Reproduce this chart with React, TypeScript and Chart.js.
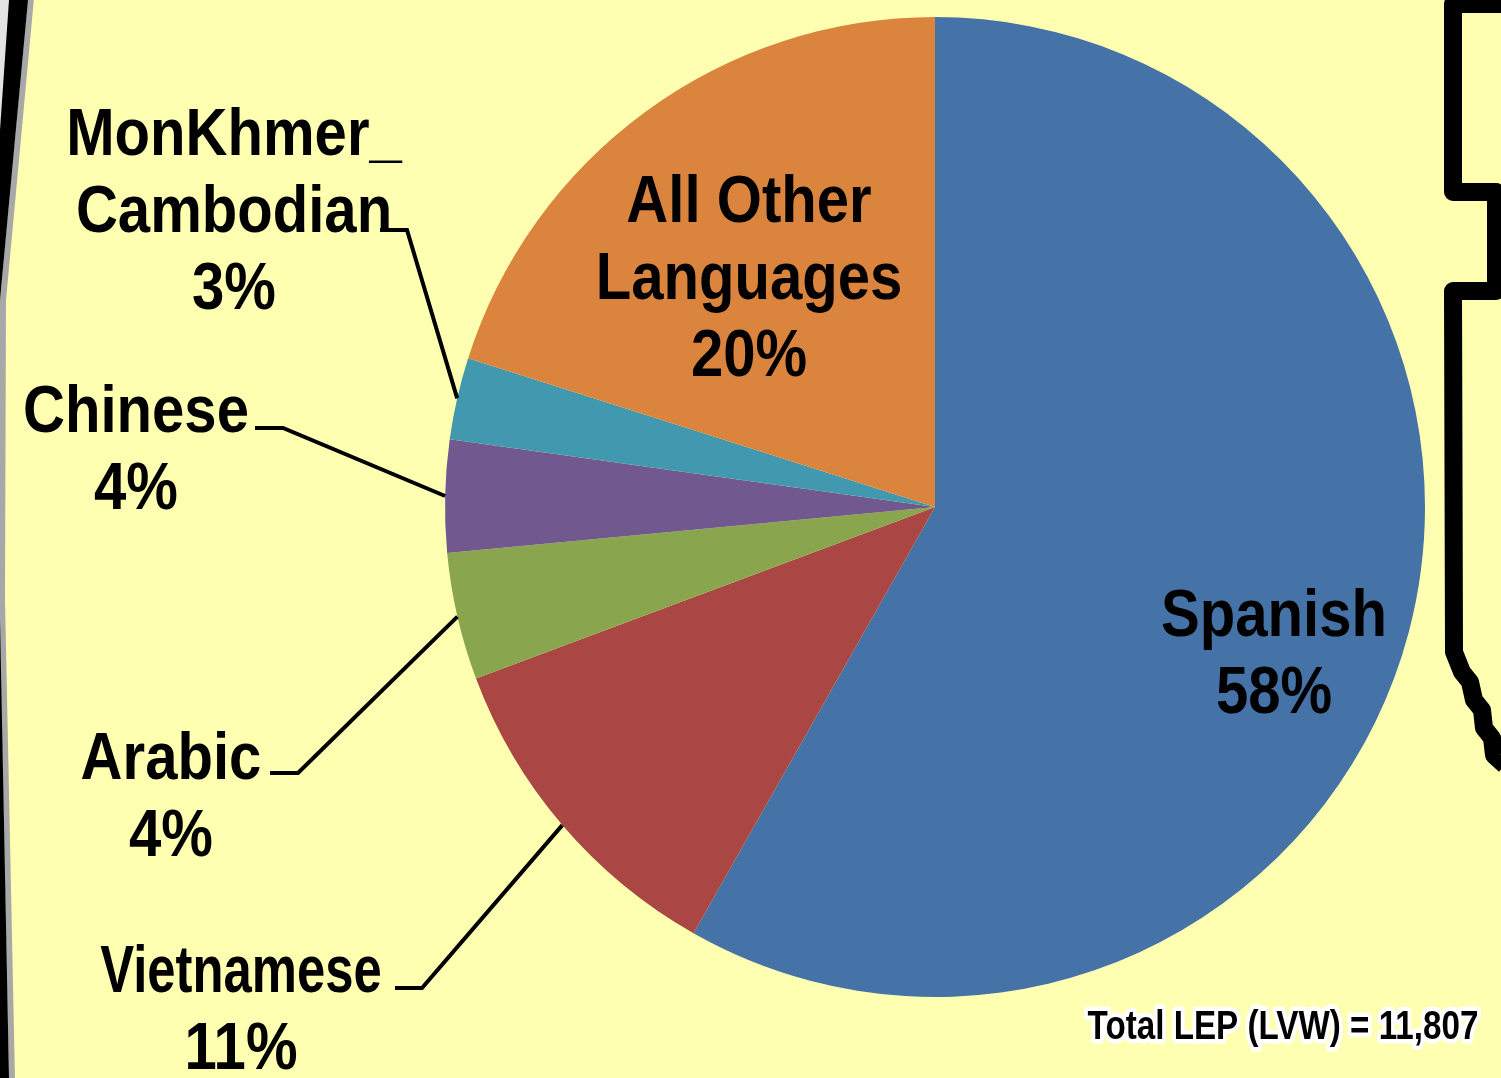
import React, { useEffect, useRef } from "react";
import { Chart, registerables } from "chart.js";

Chart.register(...registerables);

// ---- data ----
const categories = ["Spanish", "Vietnamese", "Arabic", "Chinese", "MonKhmer_Cambodian", "All Other Languages"];
const counts = [6872, 1311, 496, 437, 319, 2372];
const labelLines = [["Spanish"], ["Vietnamese"], ["Arabic"], ["Chinese"], ["MonKhmer_", "Cambodian"], ["All Other", "Languages"]];
const sliceColors = ["#4572A7", "#AA4643", "#89A54E", "#71588F", "#4198AF", "#DB843D"];
const totalTitle = "Total LEP (LVW) = ";

// ---- layout (label placement only) ----
const labelLayout: any[] = [
  { cx: 1274, y: 636 },
  { cx: 241, y: 992, elbow: [422, 988], end: 395, nameScale: 0.77 },
  { cx: 171, y: 779, elbow: [298, 773], end: 270 },
  { cx: 136, y: 432, elbow: [283, 428], end: 255 },
  { cx: 234, y: 155, elbow: [407, 230], end: 380 },
  { cx: 749, y: 222 },
];

const W = 1501;
const H = 1078;
const BG = "#FFFFB2";
const FONT = '"Liberation Sans Narrow", "Arial Narrow", "Liberation Sans", Arial, sans-serif';
const SX = 0.88;

function drawSqueezed(ctx: CanvasRenderingContext2D, text: string, cx: number, y: number, sx: number, stroke = false) {
  ctx.save();
  ctx.translate(cx, y);
  ctx.scale(sx, 1);
  if (stroke) ctx.strokeText(text, 0, 0);
  ctx.fillText(text, 0, 0);
  ctx.restore();
}

const decorPlugin = {
  id: "decor",
  beforeDraw(chart: any) {
    const ctx = chart.ctx;
    ctx.save();
    ctx.fillStyle = BG;
    ctx.fillRect(0, 0, W, H);

    // left border decoration
    ctx.fillStyle = "#E4E4E4";
    ctx.beginPath();
    ctx.moveTo(0, 0);
    ctx.lineTo(10, 0);
    ctx.lineTo(0, 130);
    ctx.closePath();
    ctx.fill();
    ctx.strokeStyle = "#A8A8A8";
    ctx.lineWidth = 6;
    ctx.beginPath();
    ctx.moveTo(31, -2);
    ctx.lineTo(3, 300);
    ctx.lineTo(2, 600);
    ctx.lineTo(12, 1080);
    ctx.stroke();
    ctx.fillStyle = "#000";
    ctx.beginPath();
    ctx.moveTo(9, 0);
    ctx.lineTo(28, 0);
    ctx.lineTo(0, 300);
    ctx.lineTo(0, 130);
    ctx.closePath();
    ctx.fill();
    ctx.beginPath();
    ctx.moveTo(0, 620);
    ctx.lineTo(0, 1078);
    ctx.lineTo(9, 1078);
    ctx.closePath();
    ctx.fill();

    // right border decoration
    ctx.strokeStyle = "#000";
    ctx.lineWidth = 18;
    ctx.lineJoin = "round";
    ctx.beginPath();
    ctx.moveTo(1510, 4);
    ctx.lineTo(1453, 4);
    ctx.lineTo(1453, 192);
    ctx.lineTo(1496, 192);
    ctx.lineTo(1496, 291);
    ctx.lineTo(1453, 291);
    ctx.lineTo(1454, 652);
    ctx.lineTo(1462, 672);
    ctx.lineTo(1470, 682);
    ctx.lineTo(1474, 700);
    ctx.lineTo(1482, 710);
    ctx.lineTo(1484, 728);
    ctx.lineTo(1492, 738);
    ctx.lineTo(1494, 755);
    ctx.lineTo(1505, 765);
    ctx.stroke();
    ctx.restore();
  },
  afterDraw(chart: any) {
    const ctx = chart.ctx;
    const meta = chart.getDatasetMeta(0);
    const data = chart.data.datasets[0].data as number[];
    const total = data.reduce((a, b) => a + b, 0);
    ctx.save();
    // leader lines
    ctx.strokeStyle = "#000";
    ctx.lineWidth = 4;
    ctx.lineJoin = "miter";
    meta.data.forEach((arc: any, i: number) => {
      const lay = labelLayout[i];
      if (!lay.elbow) return;
      const mid = (arc.startAngle + arc.endAngle) / 2;
      const px = arc.x + Math.cos(mid) * arc.outerRadius;
      const py = arc.y + Math.sin(mid) * arc.outerRadius;
      ctx.beginPath();
      ctx.moveTo(px, py);
      ctx.lineTo(lay.elbow[0], lay.elbow[1]);
      ctx.lineTo(lay.end, lay.elbow[1]);
      ctx.stroke();
    });
    // labels
    ctx.fillStyle = "#000";
    ctx.textAlign = "center";
    ctx.textBaseline = "alphabetic";
    ctx.font = `bold 66px ${FONT}`;
    meta.data.forEach((_arc: any, i: number) => {
      const lay = labelLayout[i];
      const pct = Math.round((data[i] / total) * 100) + "%";
      const names = labelLines[i];
      names.forEach((t, k) => {
        drawSqueezed(ctx, t, lay.cx, lay.y + k * 77, lay.nameScale || SX);
      });
      drawSqueezed(ctx, pct, lay.cx, lay.y + names.length * 77, SX);
    });
    // total text with white halo
    const totalText = totalTitle + total.toLocaleString("en-US");
    ctx.font = `bold 40px ${FONT}`;
    ctx.textAlign = "center";
    ctx.lineJoin = "round";
    ctx.strokeStyle = "#FFFFFF";
    ctx.lineWidth = 9;
    drawSqueezed(ctx, totalText, 1283, 1039, 0.83, true);
    ctx.restore();
  },
};

export default function App() {
  const canvasRef = useRef<HTMLCanvasElement | null>(null);
  useEffect(() => {
    document.body.style.margin = "0";
    document.body.style.overflow = "hidden";
    const canvas = canvasRef.current;
    if (!canvas) return;
    const chart = new Chart(canvas, {
      type: "pie",
      data: {
        labels: categories,
        datasets: [
          {
            data: counts,
            backgroundColor: sliceColors,
            borderWidth: 0,
            hoverOffset: 0,
          },
        ],
      },
      options: {
        responsive: false,
        maintainAspectRatio: false,
        animation: false,
        layout: { padding: { left: 445, right: 76, top: 17, bottom: 81 } },
        plugins: {
          legend: { display: false },
          tooltip: { enabled: false },
        },
      },
      plugins: [decorPlugin],
    });
    return () => chart.destroy();
  }, []);
  return <canvas ref={canvasRef} width={W} height={H} style={{ display: "block" }} />;
}
